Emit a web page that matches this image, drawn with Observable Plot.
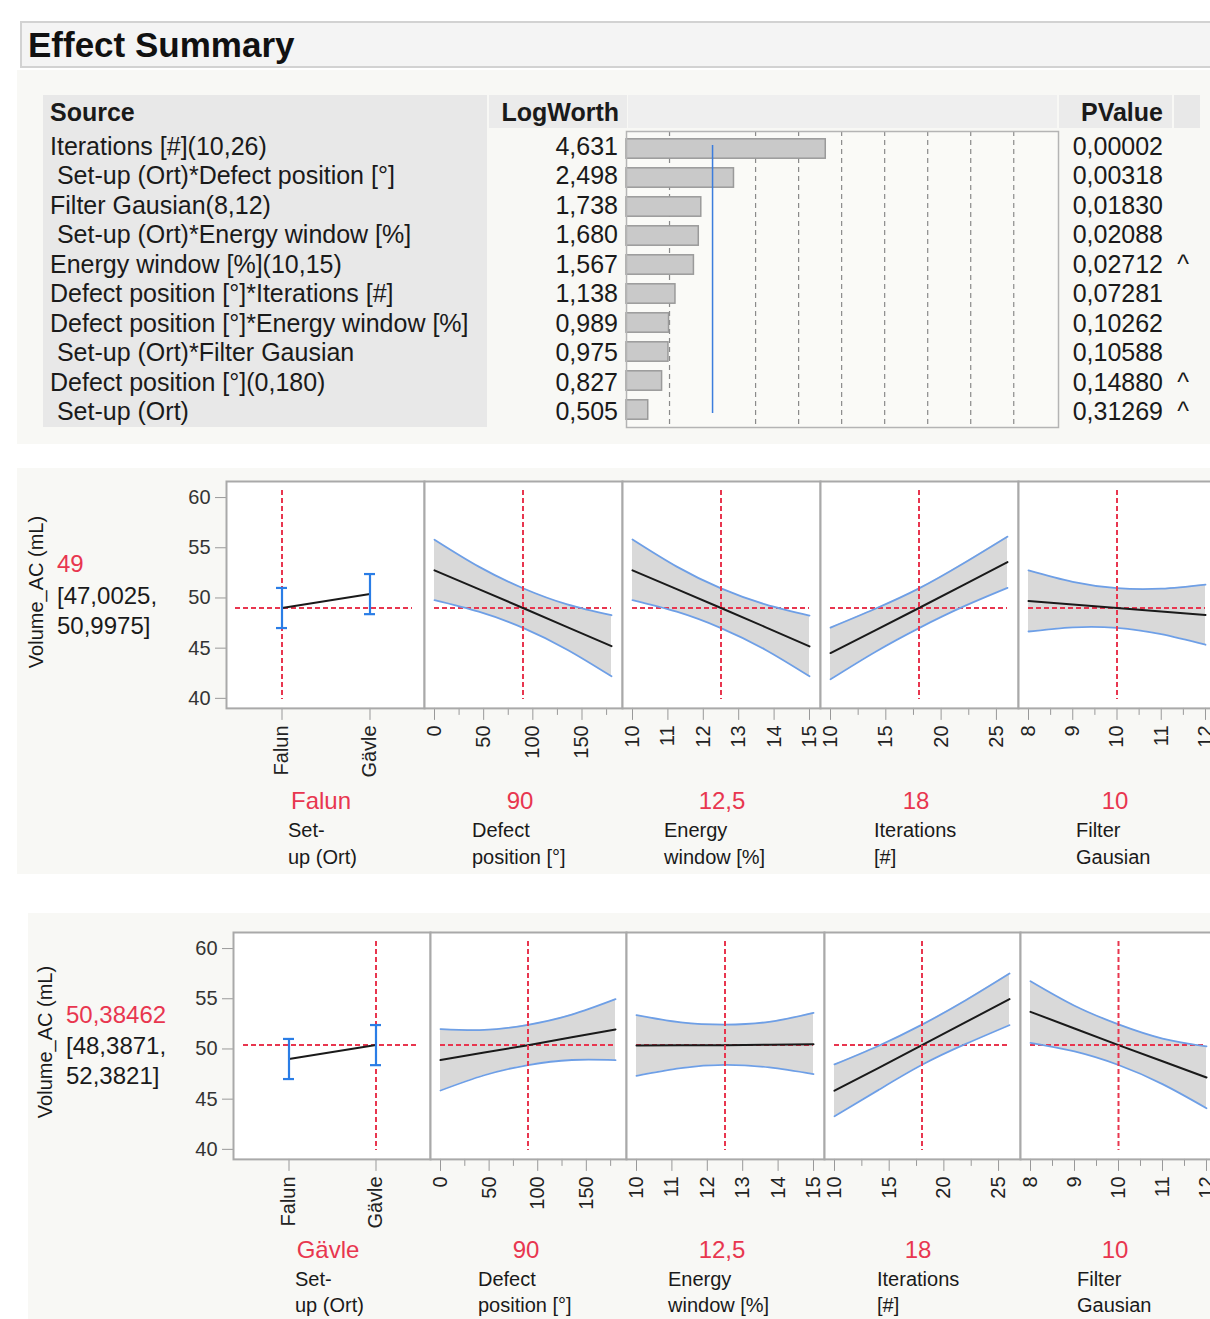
<!DOCTYPE html>
<html><head><meta charset="utf-8">
<script src="https://cdn.jsdelivr.net/npm/d3@7"></script>
<script src="https://cdn.jsdelivr.net/npm/@observablehq/plot@0.6"></script>
<style>
body{margin:0;background:#fff;overflow:hidden;}
#root{position:relative;width:1210px;height:1319px;overflow:hidden;font-family:"Liberation Sans",Arial,Helvetica,sans-serif;color:#1a1a1a;}
</style></head><body><div id="root"></div>
<script>
// ---------------- DATA ----------------
const sources = ["Iterations [#](10,26)", " Set-up (Ort)*Defect position [°]", "Filter Gausian(8,12)", " Set-up (Ort)*Energy window [%]", "Energy window [%](10,15)", "Defect position [°]*Iterations [#]", "Defect position [°]*Energy window [%]", " Set-up (Ort)*Filter Gausian", "Defect position [°](0,180)", " Set-up (Ort)"];
const logWorth = [4.631, 2.498, 1.738, 1.680, 1.567, 1.138, 0.989, 0.975, 0.827, 0.505];
const pValue = [0.00002, 0.00318, 0.01830, 0.02088, 0.02712, 0.07281, 0.10262, 0.10588, 0.14880, 0.31269];
const heredity = ["", "", "", "", "^", "", "", "", "^", "^"];
const logWorthGrid = [1, 3, 4, 5, 6, 7, 8, 9];
const logWorthRef = 2;

const factorLines = [["Set-", "up (Ort)"], ["Defect", "position [°]"], ["Energy", "window [%]"], ["Iterations", "[#]"], ["Filter", "Gausian"]];
const responseName = "Volume_AC (mL)";

const setupLevels = ["Falun", "Gävle"];
const setupMean = [49.0, 50.38462];
const setupLower = [47.0025, 48.3871];
const setupUpper = [50.9975, 52.3821];

const defectX = [0, 45, 90, 135, 180];
const energyX = [10, 11.25, 12.5, 13.75, 15];
const iterX = [10, 14, 18, 22, 26];
const filterX = [8, 9, 10, 11, 12];

const defectTicks = [0, 50, 100, 150], defectMinor = [25, 75, 125, 175];
const energyTicks = [10, 11, 12, 13, 14, 15];
const iterTicks = [10, 15, 20, 25], iterMinor = [12.5, 17.5, 22.5];
const filterTicks = [8, 9, 10, 11, 12], filterMinor = [8.5, 9.5, 10.5, 11.5];
const yTicks = [40, 45, 50, 55, 60];

// Profiler 1 (Set-up = Falun)
const p1Current = ["Falun", 90, 12.5, 18, 10];
const p1Pred = 49, p1CI = [47.0025, 50.9975];
const p1DefectMean = [52.75, 50.88, 49.0, 47.1, 45.2];
const p1DefectUpper = [55.8, 53.12, 50.97, 49.36, 48.28];
const p1DefectLower = [49.78, 48.63, 47.02, 44.85, 42.2];
const p1EnergyMean = [52.75, 50.88, 49.0, 47.1, 45.17];
const p1EnergyUpper = [55.82, 53.12, 50.95, 49.36, 48.24];
const p1EnergyLower = [49.79, 48.63, 47.0, 44.85, 42.2];
const p1IterMean = [44.51, 46.75, 49.0, 51.28, 53.57];
const p1IterUpper = [47.05, 48.9, 50.95, 53.43, 56.11];
const p1IterLower = [41.9, 44.6, 47.0, 49.13, 51.0];
const p1FilterMean = [49.69, 49.35, 49.0, 48.65, 48.3];
const p1FilterUpper = [52.74, 51.6, 50.97, 50.92, 51.33];
const p1FilterLower = [46.66, 47.08, 47.03, 46.4, 45.34];

// Profiler 2 (Set-up = Gävle)
const p2Current = ["Gävle", 90, 12.5, 18, 10];
const p2Pred = 50.38462, p2CI = [48.3871, 52.3821];
const p2DefectMean = [48.89, 49.64, 50.38, 51.16, 51.94];
const p2DefectUpper = [51.98, 51.9, 52.4, 53.42, 54.96];
const p2DefectLower = [45.86, 47.38, 48.4, 48.9, 48.89];
const p2EnergyMean = [50.35, 50.36, 50.38, 50.43, 50.48];
const p2EnergyUpper = [53.37, 52.65, 52.43, 52.7, 53.6];
const p2EnergyLower = [47.33, 48.1, 48.42, 48.16, 47.5];
const p2IterMean = [45.84, 48.1, 50.38, 52.67, 54.96];
const p2IterUpper = [48.46, 50.3, 52.42, 54.85, 57.51];
const p2IterLower = [43.3, 45.9, 48.42, 50.5, 52.37];
const p2FilterMean = [53.7, 52.04, 50.38, 48.77, 47.16];
const p2FilterUpper = [56.75, 54.31, 52.45, 51.04, 50.25];
const p2FilterLower = [50.61, 49.75, 48.4, 46.5, 44.1];

// ---------------- STYLE / LAYOUT ----------------
const FONT = '"Liberation Sans", Arial, Helvetica, sans-serif';
const RED = "#e8364f", BLUE = "#2a7de6", CIBLUE = "#6e9fe6", BAND = "#d9d9d9", FRAME = "#a9a9a9", TICK = "#999", TXT = "#1a1a1a";
const PANEL_BG = "#f8f8f5";
const Y_DOMAIN = [39, 61.6];
const fmtComma = (v, d) => (d == null ? String(v) : v.toFixed(d)).replace(".", ",");

const root = document.getElementById("root");
function box(left, top, w, h, css) {
  const d = document.createElement("div");
  d.style.cssText = `position:absolute;left:${left}px;top:${top}px;width:${w}px;height:${h}px;${css || ""}`;
  root.appendChild(d); return d;
}
function text(s, o) {
  const size = o.size || 24, lh = Math.round(size * 1.2);
  const d = document.createElement("div");
  d.textContent = s;
  let css = `position:absolute;white-space:pre;font-size:${size}px;line-height:${lh}px;font-weight:${o.weight || 400};color:${o.color || TXT};`;
  if (o.rotate) css += `left:${o.cx}px;top:${o.cy}px;transform:translate(-50%,-50%) rotate(-90deg);`;
  else {
    css += `top:${o.cy - lh / 2}px;`;
    if (o.right != null) css += `right:${1210 - o.right}px;text-align:right;`;
    else if (o.cx != null) css += `left:${o.cx}px;transform:translateX(-50%);`;
    else css += `left:${o.left}px;`;
  }
  d.style.cssText = css; root.appendChild(d); return d;
}
function place(svg, left, top) {
  svg.style.position = "absolute"; svg.style.left = left + "px"; svg.style.top = top + "px";
  root.appendChild(svg);
}

// ---------------- EFFECT SUMMARY ----------------
box(20, 21, 1200, 47, "background:#f4f4f4;border:2px solid #d2d2d2;box-sizing:border-box;");
text("Effect Summary", {left: 28, cy: 45, size: 35, weight: 700, color: "#111"});
box(17, 70, 1200, 374, `background:${PANEL_BG};`);
box(43, 95, 444, 332, "background:#e8e8e8;");
box(489, 95, 138, 33, "background:#ebebeb;");
box(628, 95, 429, 33, "background:#efefef;");
box(1059, 95, 113, 33, "background:#ebebeb;");
box(1174, 95, 26, 33, "background:#e8e8e8;");
text("Source", {left: 50, cy: 112, size: 25, weight: 700});
text("LogWorth", {right: 619, cy: 112, size: 25, weight: 700});
text("PValue", {right: 1163, cy: 112, size: 25, weight: 700});
sources.forEach((s, i) => {
  const cy = 146 + i * 29.45;
  text(s, {left: 50, cy, size: 25});
  text(fmtComma(logWorth[i], 3), {right: 618, cy, size: 25});
  text(fmtComma(pValue[i], 5), {right: 1163, cy, size: 25});
  if (heredity[i]) text(heredity[i], {cx: 1183, cy, size: 25});
});

const esRows = sources.map((s, i) => ({source: s, logWorth: logWorth[i]}));
const esPlot = Plot.plot({
  width: 436, height: 300, marginLeft: 2, marginRight: 2, marginTop: 2, marginBottom: 2,
  style: {background: "transparent", overflow: "visible"},
  x: {domain: [0, 10.04], axis: null},
  y: {domain: sources, axis: null, padding: 0},
  marks: [
    Plot.frame({fill: "#fafaf7"}),
    Plot.ruleX(logWorthGrid, {stroke: "#8a8a8a", strokeDasharray: "5,4", strokeWidth: 1.2}),
    Plot.barX(esRows, {x: "logWorth", y: "source", fill: "#c9c9c9", stroke: "#9a9a9a", strokeWidth: 1.5, insetTop: 4.8, insetBottom: 4.8}),
    Plot.ruleX([logWorthRef], {stroke: "#3b7ddd", strokeWidth: 1.5, insetTop: 14, insetBottom: 14}),
    Plot.frame({stroke: "#b4b4b4", strokeWidth: 1.5})
  ]
});
place(esPlot, 624, 129);

// ---------------- PROFILERS ----------------
const zipRows = (xs, m, lo, hi) => xs.map((x, i) => ({x, mean: m[i], lo: lo[i], hi: hi[i]}));
const profilers = [
  {
    current: p1Current, pred: p1Pred, ci: p1CI,
    curves: [zipRows(defectX, p1DefectMean, p1DefectLower, p1DefectUpper), zipRows(energyX, p1EnergyMean, p1EnergyLower, p1EnergyUpper), zipRows(iterX, p1IterMean, p1IterLower, p1IterUpper), zipRows(filterX, p1FilterMean, p1FilterLower, p1FilterUpper)],
    layout: {bg: [17, 468, 1200, 406], frameTop: 481, lefts: [226, 424, 622, 820, 1018], widths: [198, 198, 198, 198, 198],
      yLabel: [36, 592], predLeft: 57, predCy: [563, 595, 625], valueCx: [321, 520, 722, 916, 1115], valueCy: 800, factorLeft: [288, 472, 664, 874, 1076], factorCy: [830, 857], setupInset: [9, 12]}
  },
  {
    current: p2Current, pred: p2Pred, ci: p2CI,
    curves: [zipRows(defectX, p2DefectMean, p2DefectLower, p2DefectUpper), zipRows(energyX, p2EnergyMean, p2EnergyLower, p2EnergyUpper), zipRows(iterX, p2IterMean, p2IterLower, p2IterUpper), zipRows(filterX, p2FilterMean, p2FilterLower, p2FilterUpper)],
    layout: {bg: [28, 913, 1200, 406], frameTop: 932, lefts: [233, 430, 626, 824, 1020], widths: [197, 196, 198, 196, 197],
      yLabel: [45, 1042], predLeft: 66, predCy: [1014, 1045, 1075], valueCx: [328, 526, 722, 918, 1115], valueCy: 1249, factorLeft: [295, 478, 668, 877, 1077], factorCy: [1279, 1305], setupInset: [10, 12]}
  }
];
const contSpecs = [
  {domain: [0, 180], majors: defectTicks, minors: defectMinor},
  {domain: [10, 15], majors: energyTicks, minors: []},
  {domain: [10, 26], majors: iterTicks, minors: iterMinor},
  {domain: [8, 12], majors: filterTicks, minors: filterMinor}
];
const FRAME_H = (Y_DOMAIN[1] - Y_DOMAIN[0]) * 10.04;
const dash = {stroke: RED, strokeDasharray: "5,3", strokeWidth: 2};
const axisText = {fontSize: 20, fill: "#222", stroke: TICK, label: null};

for (const P of profilers) {
  const L = P.layout;
  box(L.bg[0], L.bg[1], L.bg[2], L.bg[3], `background:${PANEL_BG};`);
  text(responseName, {cx: L.yLabel[0], cy: L.yLabel[1], size: 20, rotate: true});
  text(fmtComma(P.pred), {left: L.predLeft, cy: L.predCy[0], size: 24, color: RED});
  text("[" + fmtComma(P.ci[0]) + ",", {left: L.predLeft, cy: L.predCy[1], size: 24});
  text(fmtComma(P.ci[1]) + "]", {left: L.predLeft, cy: L.predCy[2], size: 24});

  for (let k = 0; k < 5; k++) {
    const first = k === 0;
    const mL = first ? 70 : 2, mR = 2, mT = 2, mB = 90;
    const fw = L.widths[k];
    const marks = [Plot.frame({fill: "white"})];
    let x;
    if (first) {
      const rows = setupLevels.map((lv, i) => ({level: lv, mean: setupMean[i], lo: setupLower[i], hi: setupUpper[i]}));
      // narrow bands centred where the two levels sit
      x = {type: "band", domain: setupLevels, paddingInner: 0.9, paddingOuter: 0.575};
      marks.push(
        Plot.ruleY([P.pred], {...dash, insetLeft: L.setupInset[0], insetRight: L.setupInset[1]}),
        Plot.ruleX([P.current[0]], {x: d => d, ...dash, insetTop: 9, insetBottom: 9}),
        Plot.line(rows, {x: "level", y: "mean", stroke: "#1a1a1a", strokeWidth: 2}),
        Plot.ruleX(rows, {x: "level", y1: "lo", y2: "hi", stroke: BLUE, strokeWidth: 2.2}),
        Plot.tickY(rows, {x: "level", y: "lo", stroke: BLUE, strokeWidth: 2.2, insetLeft: -1, insetRight: -1}),
        Plot.tickY(rows, {x: "level", y: "hi", stroke: BLUE, strokeWidth: 2.2, insetLeft: -1, insetRight: -1}),
        Plot.axisX({tickRotate: -90, tickSize: 12, tickPadding: 5, ...axisText}),
        Plot.axisY({ticks: yTicks, tickSize: 11, tickPadding: 5, fontSize: 20, fill: "#333", stroke: TICK, label: null})
      );
    } else {
      const spec = contSpecs[k - 1], rows = P.curves[k - 1];
      x = {domain: spec.domain, insetLeft: 10, insetRight: 11};
      marks.push(
        Plot.areaY(rows, {x: "x", y1: "lo", y2: "hi", fill: BAND, curve: "natural"}),
        Plot.ruleY([P.pred], {...dash, x1: spec.domain[0], x2: spec.domain[1]}),
        Plot.line(rows, {x: "x", y: "hi", stroke: CIBLUE, strokeWidth: 1.8, curve: "natural"}),
        Plot.line(rows, {x: "x", y: "lo", stroke: CIBLUE, strokeWidth: 1.8, curve: "natural"}),
        Plot.line(rows, {x: "x", y: "mean", stroke: "#1a1a1a", strokeWidth: 2}),
        Plot.ruleX([P.current[k]], {...dash, insetTop: 9, insetBottom: 9}),
        Plot.axisX({ticks: spec.majors, tickRotate: -90, tickSize: 12, tickPadding: 5, tickFormat: d => fmtComma(d), ...axisText}),
        Plot.axisX({ticks: spec.minors, tickSize: 7, tickFormat: () => "", stroke: TICK, label: null})
      );
    }
    marks.push(Plot.frame({stroke: FRAME, strokeWidth: 2}));
    const svg = Plot.plot({
      width: mL + fw + mR, height: mT + FRAME_H + mB,
      marginLeft: mL, marginRight: mR, marginTop: mT, marginBottom: mB,
      style: {background: "transparent", overflow: "visible", fontFamily: FONT, fontSize: "20px"},
      x: {...x, label: null}, y: {domain: Y_DOMAIN, label: null, axis: first ? undefined : null},
      marks
    });
    place(svg, L.lefts[k] - mL, L.frameTop - mT);

    const cur = P.current[k];
    text(typeof cur === "number" ? fmtComma(cur) : cur, {cx: L.valueCx[k], cy: L.valueCy, size: 24, color: RED});
    text(factorLines[k][0], {left: L.factorLeft[k], cy: L.factorCy[0], size: 20});
    text(factorLines[k][1], {left: L.factorLeft[k], cy: L.factorCy[1], size: 20});
  }
}
</script></body></html>
